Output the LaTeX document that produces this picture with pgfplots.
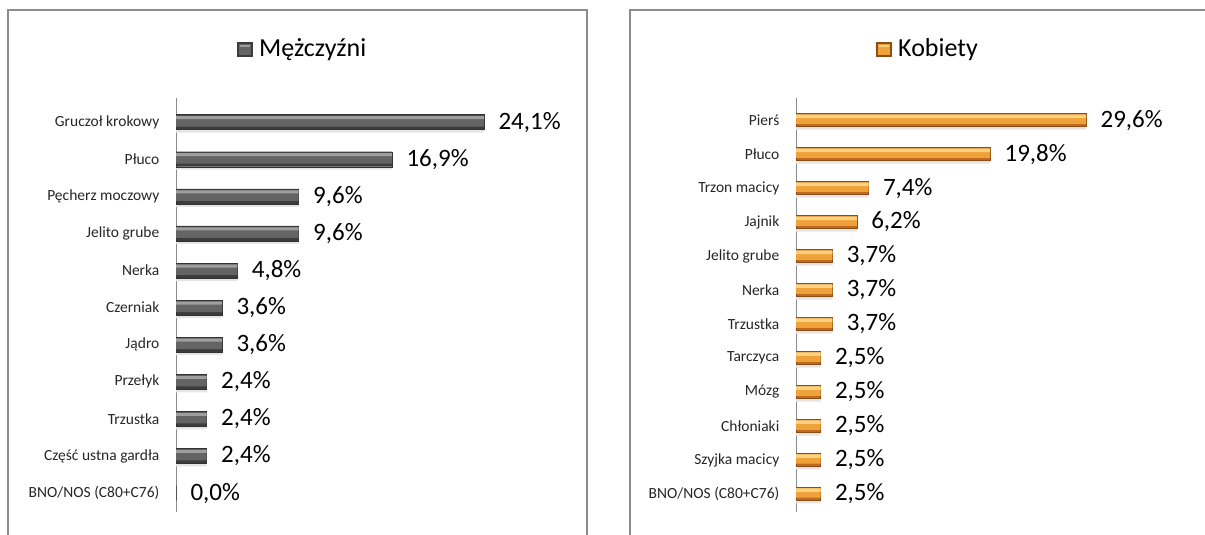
\documentclass[border=0pt]{standalone}
\usepackage{fontspec}
\setmainfont{Carlito}
\usepackage{pgfplots}
\pgfplotsset{compat=1.18}
\definecolor{gTop}{HTML}{9E9E9E}
\definecolor{gMid}{HTML}{646464}
\definecolor{gBot}{HTML}{3C3C3C}
\definecolor{gLine}{HTML}{333333}
\definecolor{oTop}{HTML}{FBD282}
\definecolor{oMid}{HTML}{F0A23A}
\definecolor{oBot}{HTML}{C06A1E}
\definecolor{oLine}{HTML}{8C4E16}
\definecolor{frame}{HTML}{8C8C8C}
\pgfplotsset{
  mybar/.style={
    scale only axis, xbar, clip=false,
    xmin=0, y dir=reverse,
    axis x line=none, axis y line=left,
    axis line style={-, draw=frame, line width=0.9pt},
    ytick style={draw=none},
    yticklabel style={font=\fontsize{15.5}{15.5}\selectfont, text=black!85, xshift=-11pt},
  },
  vals/.style={
    nodes near coords={\pgfmathprintnumber[fixed,fixed zerofill,precision=1,use comma,assume math mode=true]{\pgfplotspointmeta}\%},
    point meta=x,
    every node near coord/.append style={font=\fontsize{25}{25}\selectfont, text=black, anchor=west, xshift=11pt},
  },
}
\pgfplotstableread{
i v
0 24.1
1 16.9
2 9.6
3 9.6
4 4.8
5 3.6
6 3.6
7 2.4
8 2.4
9 2.4
10 0.0
}\men
\pgfplotstableread{
i v
0 29.6
1 19.8
2 7.4
3 6.2
4 3.7
5 3.7
6 3.7
7 2.5
8 2.5
9 2.5
10 2.5
11 2.5
}\women
\begin{document}
\begin{tikzpicture}[x=1pt,y=1pt]
\path[use as bounding box] (0,0) rectangle (1205,535);
\draw[frame, line width=1.3pt] (8,-2) -- (8,525) -- (587,525) -- (587,-2);
\draw[frame, line width=1.3pt] (630,-2) -- (630,525) -- (1207,525);
% titles
\fill[gBot] (237,478) rectangle (253,493);
\fill[gMid] (239,480) rectangle (251,491);
\fill[gTop] (240,488) rectangle (250,490);
\node[anchor=base west, font=\fontsize{26}{26}\selectfont, inner sep=0pt] at (259,478) {Mężczyźni};
\fill[oLine] (876,478) rectangle (892,493);
\fill[oMid] (878,480) rectangle (890,491);
\fill[oTop] (879,488) rectangle (889,490);
\node[anchor=base west, font=\fontsize{26}{26}\selectfont, inner sep=0pt] at (898,478) {Kobiety};

\begin{axis}[mybar, at={(176pt,23pt)}, anchor=south west,
  width=383.4pt, height=414pt, xmax=30, ymin=-0.65, ymax=10.51,
  ytick={0,...,10},
  yticklabels={Gruczoł krokowy, Płuco, Pęcherz moczowy, Jelito grube, Nerka, Czerniak, Jądro, Przełyk, Trzustka, Część ustna gardła, BNO/NOS (C80+C76)}]
\addplot[draw=none, fill=black!10, bar width=15pt, bar shift=-3pt] table[x=v, y=i] {\men};
\addplot[vals, draw=gLine, line width=0.4pt, fill=gBot, bar width=15pt, bar shift=0pt] table[x=v, y=i] {\men};
\addplot[draw=none, fill=gMid, bar width=11pt, bar shift=1pt] table[x=v, y=i] {\men};
\addplot[draw=none, fill=gTop, bar width=3pt, bar shift=4.5pt] table[x=v, y=i] {\men};
\end{axis}

\begin{axis}[mybar, at={(796pt,23pt)}, anchor=south west,
  width=343pt, height=414pt, xmax=35, ymin=-0.65, ymax=11.53,
  ytick={0,...,11},
  yticklabels={Pierś, Płuco, Trzon macicy, Jajnik, Jelito grube, Nerka, Trzustka, Tarczyca, Mózg, Chłoniaki, Szyjka macicy, BNO/NOS (C80+C76)}]
\addplot[draw=none, fill=black!10, bar width=13pt, bar shift=-3pt] table[x=v, y=i] {\women};
\addplot[vals, draw=oLine, line width=0.4pt, fill=oBot, bar width=13pt, bar shift=0pt] table[x=v, y=i] {\women};
\addplot[draw=none, fill=oMid, bar width=9.5pt, bar shift=1pt] table[x=v, y=i] {\women};
\addplot[draw=none, fill=oTop, bar width=3.5pt, bar shift=3.8pt] table[x=v, y=i] {\women};
\end{axis}
\end{tikzpicture}
\end{document}
